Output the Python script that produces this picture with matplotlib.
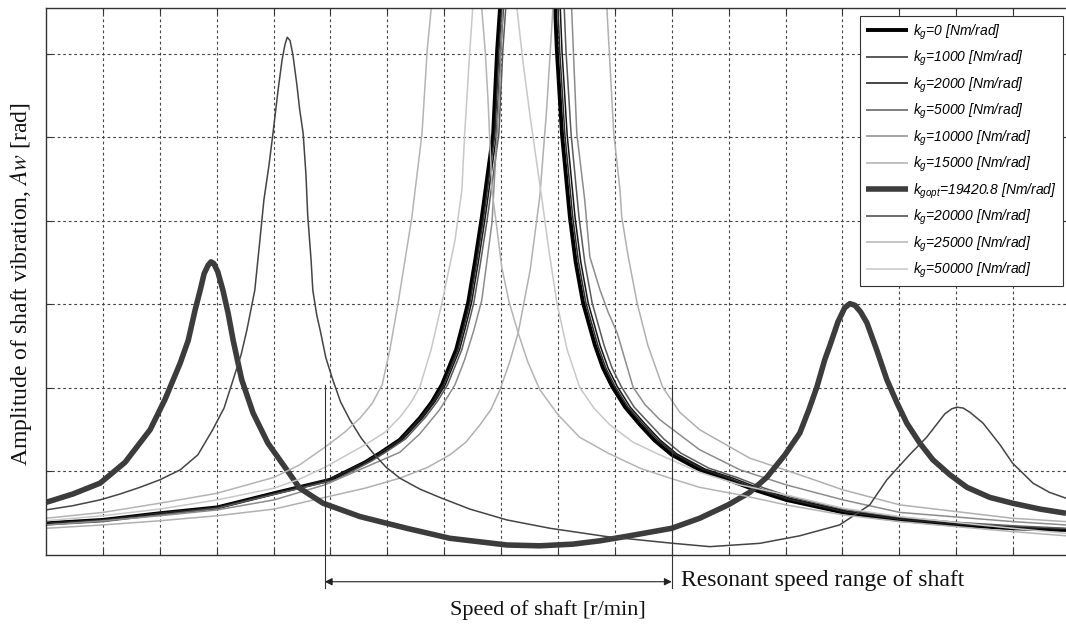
import matplotlib
matplotlib.use("Agg")
import matplotlib.pyplot as plt

plt.rcParams['mathtext.fontset'] = 'custom'
plt.rcParams['mathtext.it'] = 'Liberation Sans:italic'
plt.rcParams['mathtext.rm'] = 'Liberation Sans:italic'

# ---- data (speed and amplitude in grid units) ----
x_kg0 = [0.00,1.00,2.00,3.01,4.01,4.99,5.61,5.87,6.22,6.57,6.78,6.96,7.21,7.31,7.42,7.54,7.66,7.86,7.93,7.98,8.45,
         8.95,8.98,9.07,9.21,9.31,9.44,9.65,9.79,9.95,10.18,10.44,10.70,11.00,11.49,12.00,12.50,13.01,14.01,14.99,16.01,16.99,17.93]
y_kg0 = [0.38,0.42,0.50,0.57,0.74,0.90,1.11,1.22,1.38,1.64,1.83,2.04,2.46,2.72,3.02,3.51,4.04,5.04,6.04,6.54,9.04,
         6.54,6.04,5.04,4.04,3.51,3.02,2.51,2.24,2.02,1.77,1.56,1.37,1.20,1.02,0.90,0.77,0.66,0.51,0.42,0.36,0.32,0.30]

x_kg1000 = [0.00,1.00,2.00,3.01,4.01,5.01,5.64,5.90,6.25,6.60,6.81,6.99,7.24,7.34,7.45,7.57,7.69,7.89,7.96,8.01,8.49,
            9.00,9.03,9.12,9.26,9.36,9.49,9.70,9.84,10.00,10.23,10.49,10.75,11.05,11.54,12.04,12.54,13.04,14.03,15.00,16.01,16.99,17.93]
y_kg1000 = [0.38,0.42,0.50,0.57,0.74,0.91,1.12,1.23,1.39,1.65,1.84,2.04,2.46,2.72,3.02,3.51,4.04,5.04,6.04,6.54,9.04,
            6.54,6.04,5.04,4.04,3.51,3.02,2.51,2.24,2.02,1.77,1.57,1.38,1.21,1.03,0.91,0.78,0.67,0.52,0.43,0.37,0.33,0.31]

x_kg2000 = [0.00,1.00,2.00,3.01,4.02,5.04,5.67,5.93,6.28,6.63,6.84,7.02,7.27,7.37,7.48,7.60,7.72,7.92,7.99,8.04,8.52,
            9.04,9.07,9.16,9.30,9.40,9.53,9.74,9.88,10.04,10.27,10.53,10.79,11.09,11.58,12.08,12.57,13.07,14.05,15.02,16.02,17.00,17.93]
y_kg2000 = [0.37,0.41,0.49,0.57,0.74,0.91,1.12,1.23,1.39,1.65,1.84,2.04,2.46,2.72,3.02,3.51,4.04,5.04,6.04,6.54,9.04,
            6.54,6.04,5.04,4.04,3.51,3.02,2.51,2.24,2.02,1.77,1.57,1.38,1.21,1.03,0.92,0.79,0.68,0.53,0.44,0.38,0.34,0.31]

x_kg5000 = [0.00,1.00,2.00,3.01,4.03,5.09,5.71,5.97,6.32,6.67,6.88,7.06,7.31,7.41,7.52,7.64,7.76,7.96,8.03,8.08,8.58,
            9.11,9.14,9.23,9.37,9.47,9.60,9.81,9.95,10.11,10.34,10.60,10.86,11.16,11.65,12.14,12.63,13.12,14.08,15.04,16.03,17.00,17.93]
y_kg5000 = [0.36,0.40,0.48,0.56,0.73,0.90,1.12,1.23,1.39,1.65,1.84,2.04,2.46,2.72,3.02,3.51,4.04,5.04,6.04,6.54,9.04,
            6.54,6.04,5.04,4.04,3.51,3.02,2.51,2.24,2.02,1.77,1.58,1.39,1.22,1.04,0.93,0.80,0.69,0.54,0.45,0.39,0.35,0.32]

x_kg10000 = [0.00,1.00,2.00,3.01,4.01,4.90,5.61,6.22,6.57,6.92,7.19,7.36,7.52,7.66,7.84,7.96,8.03,8.63,
             9.24,9.33,9.47,9.56,9.74,9.88,10.04,10.32,10.53,10.79,11.49,12.20,13.01,14.01,15.01,16.99,17.93]
y_kg10000 = [0.36,0.41,0.47,0.54,0.66,0.84,1.05,1.23,1.45,1.74,2.04,2.34,2.69,3.05,3.98,5.45,6.54,9.04,
             6.54,5.05,4.25,3.57,3.17,2.91,2.66,2.01,1.80,1.62,1.26,1.02,0.84,0.66,0.51,0.40,0.36]

x_kg15000 = [0.00,1.00,2.00,3.01,4.01,4.90,5.61,6.22,6.71,7.10,7.38,7.63,7.82,7.98,8.15,8.30,8.51,8.68,8.80,8.91,9.38,
             9.86,9.98,10.09,10.12,10.23,10.39,10.58,10.84,11.14,11.49,12.37,13.25,14.01,15.01,16.99,17.93]
y_kg15000 = [0.32,0.36,0.41,0.47,0.55,0.69,0.80,0.92,1.05,1.20,1.35,1.56,1.74,1.98,2.31,2.66,3.41,4.29,5.33,6.54,9.04,
             6.54,5.05,4.37,4.05,3.59,3.02,2.51,2.01,1.71,1.50,1.16,0.96,0.78,0.60,0.44,0.40]

x_kgopt = [0.00,0.47,0.95,1.39,1.83,2.09,2.36,2.50,2.62,2.71,2.78,2.85,2.90,2.95,3.02,3.11,3.20,3.29,3.44,3.64,3.90,4.17,4.46,4.87,5.52,6.34,7.10,8.10,8.68,9.26,9.74,10.26,
           11.00,11.49,11.99,12.37,12.67,12.99,13.25,13.41,13.55,13.69,13.78,13.92,14.04,14.13,14.22,14.32,14.43,14.60,14.78,14.96,15.13,15.36,15.59,15.89,16.19,16.59,16.99,17.47,17.93]
y_kgopt = [0.63,0.73,0.86,1.11,1.50,1.86,2.30,2.57,2.93,3.17,3.37,3.47,3.51,3.49,3.39,3.17,2.90,2.57,2.10,1.70,1.34,1.08,0.80,0.62,0.46,0.32,0.20,0.12,0.11,0.13,0.17,0.23,
           0.32,0.44,0.60,0.75,0.93,1.20,1.46,1.74,2.01,2.34,2.51,2.79,2.96,3.01,2.99,2.91,2.78,2.46,2.10,1.82,1.58,1.34,1.14,0.96,0.81,0.69,0.62,0.55,0.50]

x_kg20000 = [0.00,0.47,0.95,1.30,1.65,2.00,2.36,2.67,2.93,3.13,3.29,3.43,3.53,3.67,3.76,3.83,3.92,3.99,4.08,4.15,4.20,4.24,4.29,4.34,4.41,4.46,4.52,4.57,4.60,4.66,4.69,4.76,4.82,4.92,5.04,5.18,5.34,5.54,5.75,5.98,6.22,6.57,6.92,7.45,8.10,8.86,9.86,11.02,
             11.67,12.55,13.25,13.95,14.48,14.78,15.18,15.48,15.80,15.92,16.01,16.12,16.24,16.47,16.77,16.99,17.35,17.64,17.93]
y_kg20000 = [0.54,0.59,0.66,0.73,0.81,0.90,1.02,1.20,1.50,1.76,2.10,2.40,2.69,3.17,3.77,4.25,4.67,5.05,5.57,5.93,6.11,6.20,6.16,5.99,5.63,5.33,5.05,4.55,4.07,3.53,3.17,2.87,2.69,2.36,2.10,1.83,1.62,1.40,1.22,1.05,0.92,0.79,0.69,0.55,0.42,0.32,0.22,0.14,
             0.10,0.14,0.23,0.36,0.60,0.90,1.20,1.41,1.69,1.75,1.77,1.76,1.71,1.58,1.32,1.10,0.86,0.75,0.68]

x_kg25000 = [0.00,1.00,2.00,3.01,4.01,4.46,4.90,5.25,5.52,5.73,5.91,6.05,6.19,6.43,6.61,6.70,6.77,7.21,
             7.66,7.72,7.77,7.84,7.93,8.01,8.14,8.30,8.47,8.68,9.00,9.38,9.88,10.44,10.97,11.49,12.20,13.01,14.01,15.01,16.99,17.93]
y_kg25000 = [0.44,0.51,0.62,0.74,0.93,1.08,1.29,1.47,1.64,1.81,2.04,2.48,3.02,4.04,5.05,6.04,6.54,9.04,
             6.54,6.04,5.45,4.37,3.89,3.45,3.03,2.66,2.31,1.98,1.68,1.41,1.22,1.04,0.92,0.81,0.72,0.60,0.48,0.40,0.28,0.23]

x_kg50000 = [0.00,1.00,2.00,3.01,4.01,4.46,4.90,5.61,5.96,6.22,6.41,6.57,6.77,6.96,7.19,7.31,7.36,7.45,7.50,7.89,
             8.28,8.38,8.51,8.72,8.84,8.98,9.16,9.38,9.63,9.91,10.32,10.79,11.49,12.20,13.01,14.01,15.01,16.99,17.93]
y_kg50000 = [0.41,0.47,0.55,0.66,0.80,0.91,1.05,1.32,1.47,1.65,1.82,2.01,2.46,3.02,3.77,4.37,5.05,6.04,6.54,9.04,
             6.54,5.93,5.25,4.25,3.65,3.02,2.46,2.01,1.76,1.56,1.35,1.20,0.99,0.84,0.72,0.56,0.46,0.32,0.26]

labels = [r'$k_g$=0 [Nm/rad]', r'$k_g$=1000 [Nm/rad]', r'$k_g$=2000 [Nm/rad]',
          r'$k_g$=5000 [Nm/rad]', r'$k_g$=10000 [Nm/rad]', r'$k_g$=15000 [Nm/rad]',
          r'$k_{gopt}$=19420.8 [Nm/rad]', r'$k_g$=20000 [Nm/rad]',
          r'$k_g$=25000 [Nm/rad]', r'$k_g$=50000 [Nm/rad]']

# resonant speed range annotation (grid units)
range_lo, range_hi, range_top = 4.90, 11.00, 2.04

series = [(x_kg0, y_kg0), (x_kg1000, y_kg1000), (x_kg2000, y_kg2000), (x_kg5000, y_kg5000),
          (x_kg10000, y_kg10000), (x_kg15000, y_kg15000), (x_kgopt, y_kgopt),
          (x_kg20000, y_kg20000), (x_kg25000, y_kg25000), (x_kg50000, y_kg50000)]
colors = ['#000000', '#2b2b2b', '#141414', '#5a5a5a', '#8c8c8c', '#b0b0b0',
          '#3c3c3c', '#444444', '#b4b4b4', '#c8c8c8']
widths = [2.8, 1.1, 1.1, 1.1, 1.1, 1.1, 4.0, 1.1, 1.1, 1.1]

fig = plt.figure(figsize=(10.66, 6.25), dpi=100)
ax = fig.add_axes([46/1066, 70/625, 1024/1066, 547/625])

for (xs, ys), c, w, lab in zip(series, colors, widths, labels):
    ax.plot(xs, ys, color=c, lw=w, label=lab, solid_joinstyle='round', solid_capstyle='butt')

ax.set_xlim(0, 18.0)
ax.set_ylim(0, 6.55)
ax.set_xticks(range(1, 18))
ax.set_yticks(range(1, 7))
ax.tick_params(direction='in', length=4, top=True, right=True,
               labelbottom=False, labelleft=False, color='#333333')
ax.grid(True, color='#444444', linestyle=(0, (2.5, 2.5)), lw=0.8)
for s in ax.spines.values():
    s.set_color('#333333')
    s.set_linewidth(1.0)

leg = ax.legend(loc='upper right', bbox_to_anchor=(1063/1066, 609/625),
                bbox_transform=fig.transFigure, borderaxespad=0,
                prop={'family': 'Liberation Sans', 'style': 'italic', 'size': 10},
                handlelength=3.0, handletextpad=0.35, labelspacing=0.52,
                fancybox=False, framealpha=1, edgecolor='#333333',
                borderpad=0.45)
leg.get_frame().set_linewidth(0.8)

# annotation of resonant speed range
ax.plot([range_lo, range_lo], [range_top, -0.40], color='#333333', lw=0.8, clip_on=False)
ax.plot([range_hi, range_hi], [range_top, -0.40], color='#333333', lw=0.8, clip_on=False)
ax.annotate('', xy=(range_lo, -0.32), xytext=(range_hi, -0.32),
            arrowprops=dict(arrowstyle='<|-|>', color='#222222', lw=0.8,
                            mutation_scale=11, shrinkA=0, shrinkB=0),
            annotation_clip=False)
ax.text(range_hi + 0.17, -0.30, 'Resonant speed range of shaft', ha='left', va='center',
        family='Liberation Serif', fontsize=17, color='#111111')

fig.text(548/1066, 1 - 610/625, 'Speed of shaft [r/min]', ha='center', va='center',
         family='Liberation Serif', fontsize=16, color='#111111')
fig.text(21/1066, 1 - 284/625, r'Amplitude of shaft vibration, $\mathit{Aw}$ [rad]',
         ha='center', va='center', rotation=90,
         family='Liberation Serif', fontsize=17, color='#111111',
         math_fontfamily='stix')

fig.savefig('out.png', dpi=100)
